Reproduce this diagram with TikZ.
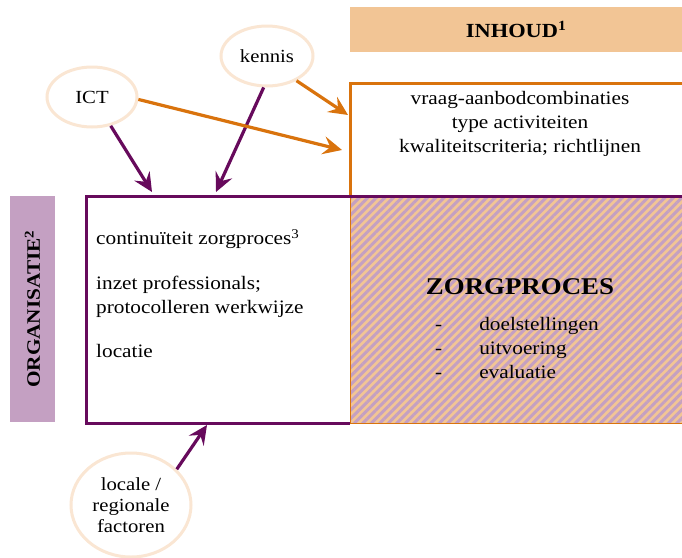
\documentclass[tikz,border=0pt]{standalone}
\usepackage{fontspec}
\setmainfont{Liberation Serif}[FakeStretch=1.12]
\usetikzlibrary{arrows.meta,patterns.meta,shapes.geometric}
\definecolor{purp}{HTML}{670A5C}
\definecolor{oran}{HTML}{D9730D}
\definecolor{peach}{HTML}{F2C595}
\definecolor{lilac}{HTML}{C4A0C2}
\definecolor{ellb}{HTML}{FAE6D3}
\tikzset{
  bubble/.style={ellipse, draw=ellb, line width=3pt, fill=white, align=center, inner sep=0pt, font=\fontsize{18.5}{21}\selectfont},
  parrow/.style={draw=purp, line width=3.2pt, -{Stealth[length=19pt,width=18pt,inset=7pt]}},
  oarrow/.style={draw=oran, line width=3.2pt, -{Stealth[length=19pt,width=18pt,inset=7pt]}},
  txt/.style={font=\fontsize{19}{24}\selectfont, inner sep=0pt},
}
\begin{document}
\begin{tikzpicture}[x=1pt,y=-1pt]
\useasboundingbox (0,0) rectangle (682,557);
% INHOUD header
\node[fill=peach, minimum width=332pt, minimum height=45pt, anchor=north west, inner sep=0pt,
      font=\bfseries\fontsize{20}{22}\selectfont] (inhoud) at (350,7) {INHOUD\textsuperscript{1}};
% ORGANISATIE side bar
\node[fill=lilac, minimum width=226pt, minimum height=45pt, rotate=90, inner sep=0pt,
      font=\bfseries\fontsize{19}{22}\selectfont] (org) at (32.5,309) {ORGANISATIE\textsuperscript{2}};
% hatched zorgproces area
\fill[peach] (350,195) rectangle (690,423);
\fill[pattern={Lines[angle=45,distance=6pt,line width=3pt]}, pattern color=lilac] (350,195) rectangle (690,423);
\draw[oran, line width=1pt] (350,195) -- (350,423) -- (690,423);
% orange inhoud box
\draw[oran, line width=3pt] (350,195) -- (350,83) -- (690,83);
% purple organisatie box
\draw[purp, line width=3pt] (350,423) -- (86,423) -- (86,196) -- (690,196);
% box texts
\node[txt, align=center, anchor=north] (inh) at (520,91) {vraag-aanbodcombinaties\\type activiteiten\\kwaliteitscriteria; richtlijnen};
\node[txt, align=left, anchor=north west] (c1) at (96,229) {continuïteit zorgproces\textsuperscript{3}};
\node[txt, align=left, anchor=north west] (c2) at (96,276) {inzet professionals;\\protocolleren werkwijze};
\node[txt, align=left, anchor=north west] (c3) at (96,344) {locatie};
\node[font=\bfseries\fontsize{24}{28}\selectfont, inner sep=0pt] (zp) at (520,287) {ZORGPROCES};
\node[txt, align=left, anchor=north west] (l1) at (435,317) {-\hspace{37pt}doelstellingen\\-\hspace{37pt}uitvoering\\-\hspace{37pt}evaluatie};
% bubbles
\node[bubble, minimum width=90pt, minimum height=60pt] (ict) at (92,97) {ICT};
\node[bubble, minimum width=92pt, minimum height=60pt] (ken) at (267,56) {kennis};
\node[bubble, minimum width=120pt, minimum height=104pt] (loc) at (131,505) {locale /\\regionale\\factoren};
% arrow targets
\coordinate (t1) at (152,192);
\coordinate (t2) at (216,192);
\coordinate (t3) at (348,115);
\coordinate (t4) at (342,150);
\coordinate (t5) at (207,425);
\draw[parrow] (ict.-57) -- (t1);
\draw[parrow] (ken.-96) -- (t2);
\draw[oarrow] (ken.-40) -- (t3);
\draw[oarrow] (ict.-3) -- (t4);
\draw[parrow] (loc.38) -- (t5);
\end{tikzpicture}
\end{document}
